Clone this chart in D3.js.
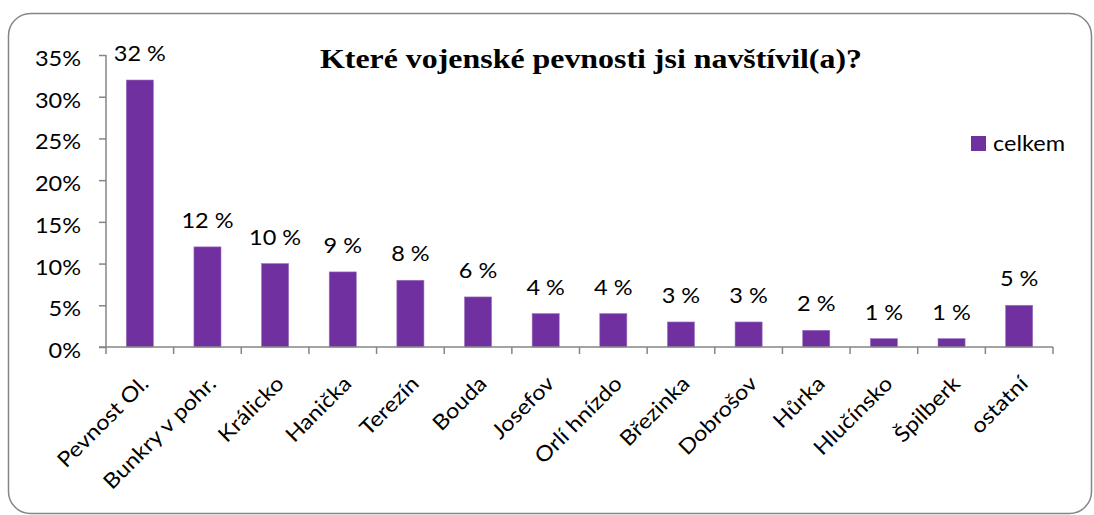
<!DOCTYPE html>
<html>
<head>
<meta charset="utf-8">
<script src="https://cdn.jsdelivr.net/npm/d3@7"></script>
<style>
  body { margin: 0; background: #fff; }
  svg text { font-family: Lato, "Open Sans", sans-serif; fill: #000; }
</style>
</head>
<body>
<div id="chart"></div>
<script>
const categories = ["Pevnost Ol.", "Bunkry v pohr.", "Králicko", "Hanička", "Terezín", "Bouda",
  "Josefov", "Orlí hnízdo", "Březinka", "Dobrošov", "Hůrka", "Hlučínsko", "Špilberk", "ostatní"];
const values = [32, 12, 10, 9, 8, 6, 4, 4, 3, 3, 2, 1, 1, 5];
const yTicks = [0, 5, 10, 15, 20, 25, 30, 35];
const seriesName = "celkem";
const chartTitle = "Které vojenské pevnosti jsi navštívil(a)?";

const width = 1094, height = 515;
const margin = {left: 106, right: 41, top: 55, bottom: 168};
const barColor = "#7030A0";
const axisColor = "#868686";
const fs = 21;      // label font size
const sx = 1.12;    // slight horizontal stretch of the text, as in the picture

const svg = d3.select("#chart").append("svg")
    .attr("width", width)
    .attr("height", height);

// outer frame with rounded corners
svg.append("rect")
    .attr("x", 8.5).attr("y", 13.5)
    .attr("width", 1083).attr("height", 500)
    .attr("rx", 22)
    .attr("fill", "none")
    .attr("stroke", "#858585")
    .attr("stroke-width", 1.5);

const x = d3.scaleBand()
    .domain(categories)
    .range([margin.left, width - margin.right])
    .paddingInner(0.6)
    .paddingOuter(0.3);

const y = d3.scaleLinear()
    .domain([0, 35])
    .range([height - margin.bottom, margin.top]);

// bars
svg.selectAll("rect.bar")
    .data(values)
    .join("rect")
    .attr("class", "bar")
    .attr("x", (d, i) => x(categories[i]))
    .attr("y", d => y(d))
    .attr("width", x.bandwidth())
    .attr("height", d => y(0) - y(d))
    .attr("fill", barColor)
    .attr("stroke", "#9b72c0")
    .attr("stroke-width", 0.6);

// data labels
svg.selectAll("text.lbl")
    .data(values)
    .join("text")
    .attr("class", "lbl")
    .attr("text-anchor", "middle")
    .attr("font-size", fs + "px")
    .attr("transform", (d, i) => `translate(${x(categories[i]) + x.bandwidth() / 2},${y(d) - 19}) scale(${sx},1)`)
    .text(d => d + " %");

// y axis
const yAxis = svg.append("g")
    .attr("transform", `translate(${margin.left},0)`)
    .call(d3.axisLeft(y).tickValues(yTicks).tickSize(7).tickFormat(d => d + "%"));
yAxis.select(".domain").attr("stroke", axisColor).attr("stroke-width", 1.5).attr("d", `M0,${y(35)}V${y(0)}`);
yAxis.selectAll(".tick line").attr("stroke", axisColor).attr("stroke-width", 1.5);
yAxis.selectAll(".tick text")
    .attr("x", 0).attr("dy", "0.5em")
    .attr("transform", `translate(-25,0) scale(${sx},1)`)
    .attr("font-size", fs + "px")
    .attr("font-family", "Lato, sans-serif")
    .attr("fill", "#000");

// x axis line and ticks between categories
const x0 = margin.left, x1 = width - margin.right;
svg.append("line")
    .attr("x1", x0 - 7).attr("x2", x1)
    .attr("y1", y(0)).attr("y2", y(0))
    .attr("stroke", axisColor).attr("stroke-width", 1.5);
svg.selectAll("line.xt")
    .data(d3.range(categories.length + 1))
    .join("line")
    .attr("class", "xt")
    .attr("x1", i => x0 + i * (x1 - x0) / categories.length)
    .attr("x2", i => x0 + i * (x1 - x0) / categories.length)
    .attr("y1", y(0)).attr("y2", y(0) + 7)
    .attr("stroke", axisColor).attr("stroke-width", 1.5);

// x labels rotated
svg.selectAll("text.cat")
    .data(categories)
    .join("text")
    .attr("class", "cat")
    .attr("text-anchor", "end")
    .attr("font-size", fs + "px")
    .attr("transform", d => `translate(${x(d) + x.bandwidth() / 2 + 10},${y(0) + 38}) rotate(-45) scale(${sx},1)`)
    .text(d => d);

// title
svg.append("text")
    .attr("text-anchor", "middle")
    .style("font-family", "'Liberation Serif', 'Times New Roman', serif")
    .attr("font-weight", "bold")
    .attr("font-size", "27.5px")
    .attr("transform", "translate(591,68) scale(1.16,1)")
    .text(chartTitle);

// legend
const lg = svg.append("g").attr("transform", "translate(971,136)");
lg.append("rect").attr("width", 15).attr("height", 15).attr("fill", barColor);
lg.append("text").attr("font-size", fs + "px")
    .attr("transform", `translate(22,15) scale(${sx},1)`)
    .text(seriesName);
</script>
</body>
</html>
